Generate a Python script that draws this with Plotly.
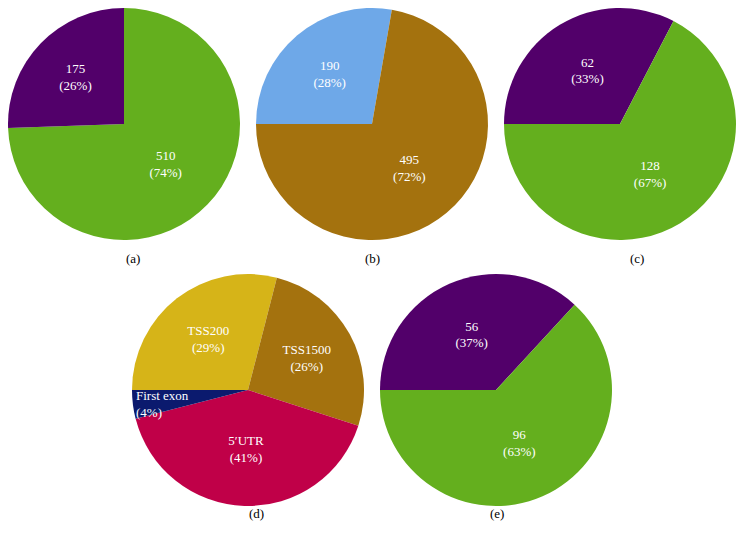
import plotly.graph_objects as go

W, H = 744, 537
OFF = 8  # page body margin

# Data
a_labels = ["Group 1", "Group 2"]
a_values = [510, 175]
b_labels = ["Group 1", "Group 2"]
b_values = [190, 495]
c_labels = ["Group 2", "Group 1"]
c_values = [62, 128]
d_labels = ["TSS200", "TSS1500", "5\u2032UTR", "First exon"]
d_values = [29, 26, 41, 4]
e_labels = ["Group 2", "Group 1"]
e_values = [56, 96]
captions = ["(a)", "(b)", "(c)", "(d)", "(e)"]

GREEN = "#64AF1E"
PURPLE = "#52006A"
BLUE = "#6EA8E8"
BROWN = "#A4720E"
YELLOW = "#D6B418"
CRIMSON = "#C00048"
NAVY = "#0B1A6E"

FONT = "Liberation Serif"

def clamp(v):
    return min(1.0, max(0.0, v))

def dom(cx, cy, r):
    cx -= OFF
    cy -= OFF
    return dict(x=[clamp((cx - r) / W), clamp((cx + r) / W)],
                y=[clamp(1 - (cy + r) / H), clamp(1 - (cy - r) / H)])

fig = go.Figure()
common = dict(sort=False, direction="clockwise", textposition="inside",
              insidetextorientation="horizontal", showlegend=False,
              marker_line_width=0, hoverinfo="label+value+percent",
              insidetextfont=dict(family=FONT, size=13, color="white"))

fig.add_trace(go.Pie(labels=a_labels, values=a_values, rotation=0,
                     marker_colors=[GREEN, PURPLE], domain=dom(124, 124, 116),
                     texttemplate="%{value}<br>(%{percent:.0%})", **common))
fig.add_trace(go.Pie(labels=b_labels, values=b_values, rotation=-90,
                     marker_colors=[BLUE, BROWN], domain=dom(372, 124, 116),
                     texttemplate="%{value}<br>(%{percent:.0%})", **common))
fig.add_trace(go.Pie(labels=c_labels, values=c_values, rotation=-90,
                     marker_colors=[PURPLE, GREEN], domain=dom(620, 124, 116),
                     texttemplate="%{value}<br>(%{percent:.0%})", **common))
d_tt = ["%{label}<br>(%{percent:.0%})"] * (len(d_labels) - 1) + [""]
fig.add_trace(go.Pie(labels=d_labels, values=d_values, rotation=-90,
                     marker_colors=[YELLOW, BROWN, CRIMSON, NAVY], domain=dom(248, 390, 116),
                     texttemplate=d_tt, **common))
fig.add_trace(go.Pie(labels=e_labels, values=e_values, rotation=-90,
                     marker_colors=[PURPLE, GREEN], domain=dom(496, 390, 116),
                     texttemplate="%{value}<br>(%{percent:.0%})", **common))

# small slice label of (d), left-aligned at the pie's left edge as in the original
pct = round(100 * d_values[3] / sum(d_values))
fig.add_annotation(text=f"{d_labels[3]}<br>({pct}%)", align="left", xanchor="left",
                   yanchor="middle", x=(134 - OFF) / W, y=1 - (404 - OFF) / H,
                   xref="paper", yref="paper", showarrow=False,
                   font=dict(family=FONT, size=13, color="white"))

cap_pos = [(124, 258), (372, 258), (646, 258), (247, 523), (497, 523)]
for t, (x, y) in zip(captions, cap_pos):
    fig.add_annotation(text=t, x=(x - OFF) / W, y=1 - (y - OFF) / H, xref="paper", yref="paper",
                       showarrow=False, font=dict(family=FONT, size=13, color="black"))

fig.update_layout(width=W, height=H, margin=dict(l=0, r=0, t=0, b=0),
                  paper_bgcolor="white", plot_bgcolor="white")
fig.write_html("out.html")
